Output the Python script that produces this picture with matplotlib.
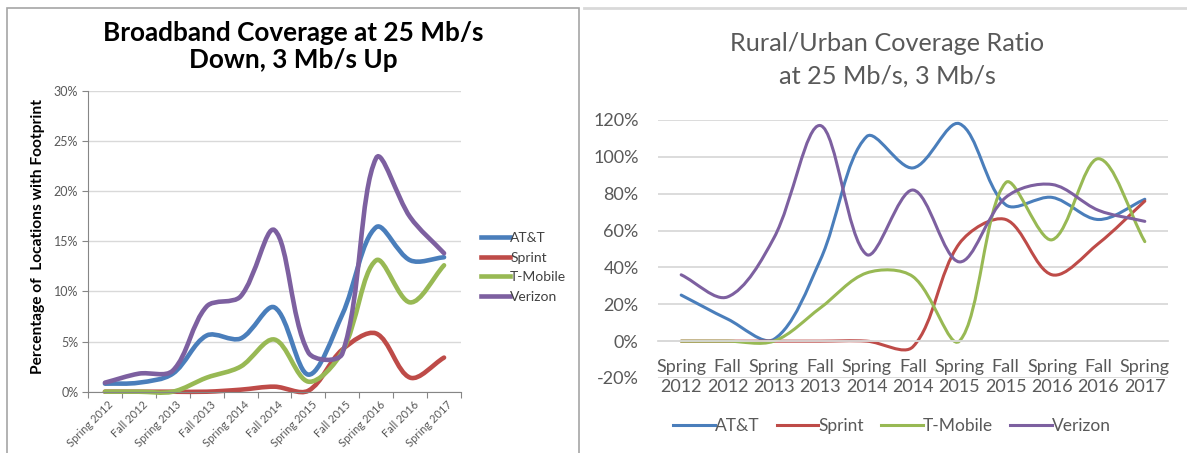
import numpy as np
import matplotlib.pyplot as plt
import matplotlib.transforms as mtransforms
from matplotlib.path import Path
from matplotlib.patches import PathPatch, Rectangle
from matplotlib.lines import Line2D
from matplotlib.ticker import FixedLocator, FuncFormatter

plt.rcParams['font.family'] = ['Lato', 'DejaVu Sans']

# data
periods = ['Spring 2012', 'Fall 2012', 'Spring 2013', 'Fall 2013', 'Spring 2014', 'Fall 2014',
           'Spring 2015', 'Fall 2015', 'Spring 2016', 'Fall 2016', 'Spring 2017']
carriers = ['AT&T', 'Sprint', 'T-Mobile', 'Verizon']
colors = ['#4A7EBB', '#BE4B48', '#98B954', '#7D60A0']

# coverage at 25/3, % of locations with footprint
cov_att = [0.8, 0.9, 1.8, 5.6, 5.3, 8.4, 1.7, 7.7, 16.4, 13.1, 13.4]
cov_sprint = [0.0, 0.0, 0.0, 0.0, 0.2, 0.5, 0.1, 4.2, 5.8, 1.4, 3.4]
cov_tmobile = [0.0, 0.0, 0.0, 1.4, 2.5, 5.2, 1.0, 4.0, 13.1, 8.9, 12.6]
cov_verizon = [0.9, 1.8, 2.1, 8.5, 9.5, 16.1, 3.9, 3.8, 23.3, 17.4, 13.8]

# rural / urban ratio, %
ratio_att = [25, 12, 1, 44, 111, 94, 118, 74, 78, 66, 77]
ratio_sprint = [0, 0, 0, 0, 0, -3, 53, 66, 36, 53, 76]
ratio_tmobile = [0, 0, 0, 18, 37, 35, 0, 86, 55, 99, 54]
ratio_verizon = [36, 24, 56, 117, 47, 82, 43, 78, 85, 71, 65]


def smooth_path(ax, xs, ys):
    # excel-like smoothed line, control points worked out in screen space
    pts = ax.transData.transform(np.column_stack([xs, ys]))
    n = len(pts)
    verts = [pts[0]]
    codes = [Path.MOVETO]
    for i in range(n - 1):
        p0 = pts[i - 1] if i > 0 else pts[i]
        p1 = pts[i]
        p2 = pts[i + 1]
        p3 = pts[i + 2] if i + 2 < n else pts[i + 1]
        d01 = np.hypot(*(p1 - p0))
        d12 = np.hypot(*(p2 - p1))
        d23 = np.hypot(*(p3 - p2))
        c1 = p1 + (p2 - p0) * (d12 / (d01 + d12)) / 3
        c2 = p2 - (p3 - p1) * (d12 / (d12 + d23)) / 3
        verts += [c1, c2, p2]
        codes += [Path.CURVE4] * 3
    verts = ax.transData.inverted().transform(np.array(verts))
    return Path(verts, codes)


W, H = 1187, 453
fig = plt.figure(figsize=(W / 100, H / 100), dpi=100)
gray_txt = '#595959'
grid_c = '#D9D9D9'
x = np.arange(len(periods))

# panel frames
fig.add_artist(Rectangle((7 / W, -0.05), 572 / W, (H - 8) / H + 0.05, transform=fig.transFigure,
                         fill=False, edgecolor='#A6A6A6', lw=1.2))
fig.add_artist(Line2D([584 / W, 1.0], [(H - 8) / H] * 2, transform=fig.transFigure,
                      color=grid_c, lw=2))

# ---- left chart
ax1 = fig.add_axes([88 / W, 61.3 / H, 373 / W, 301 / H])
ax1.set_xlim(-0.5, 10.5)
ax1.set_ylim(0, 30)
ax1.yaxis.set_major_locator(FixedLocator(np.arange(0, 31, 5)))
ax1.yaxis.set_major_formatter(FuncFormatter(lambda v, p: '%d%%' % v))
ax1.grid(axis='y', color=grid_c, lw=1)
ax1.set_axisbelow(True)
for s in ['top', 'right']:
    ax1.spines[s].set_visible(False)
for s in ['left', 'bottom']:
    ax1.spines[s].set_color('#868686')
ax1.xaxis.set_major_locator(FixedLocator(np.arange(-0.5, 11, 1)))
ax1.xaxis.set_major_formatter(FuncFormatter(lambda v, p: ''))
ax1.xaxis.set_minor_locator(FixedLocator(x))
ax1.set_xticklabels(periods, minor=True, rotation=45, ha='right', rotation_mode='anchor',
                    fontsize=8, color=gray_txt)
ax1.tick_params(axis='x', which='minor', length=0, pad=5)
ax1.tick_params(axis='x', which='major', length=4, color='#868686')
ax1.tick_params(axis='y', length=4, color='#868686', labelsize=9, labelcolor=gray_txt, pad=3)
shift = mtransforms.ScaledTranslation(3 / 100, 0, fig.dpi_scale_trans)
for lab in ax1.get_xticklabels(minor=True):
    lab.set_transform(lab.get_transform() + shift)

for vals, c in zip([cov_att, cov_sprint, cov_tmobile, cov_verizon], colors):
    ax1.add_patch(PathPatch(smooth_path(ax1, x, vals), fill=False, edgecolor=c, lw=3.3,
                            capstyle='round', joinstyle='round', clip_on=False))

h1 = [Line2D([], [], color=c, lw=3.3) for c in colors]
fig.legend(h1, carriers, loc='center left', bbox_to_anchor=(481 / W, (H - 267.5) / H),
           frameon=False, fontsize=10, handlelength=2.1, handletextpad=0.0,
           labelspacing=0.55, borderpad=0, borderaxespad=0, labelcolor='#404040')

fig.text(293 / W, (H - 40.7) / H, 'Broadband Coverage at 25 Mb/s', ha='center', va='baseline',
         fontsize=18.8, fontweight='bold')
fig.text(293 / W, (H - 68.3) / H, 'Down, 3 Mb/s Up', ha='center', va='baseline',
         fontsize=18.8, fontweight='bold')
fig.text(38 / W, (H - 236) / H, 'Percentage of  Locations with Footprint', rotation=90,
         ha='center', va='center', fontsize=11.2, fontweight='bold')

# ---- right chart
ax2 = fig.add_axes([658 / W, 75 / H, 510 / W, 258 / H])
ax2.set_xlim(-0.5, 10.5)
ax2.set_ylim(-20, 120)
ax2.yaxis.set_major_locator(FixedLocator(np.arange(-20, 121, 20)))
ax2.yaxis.set_major_formatter(FuncFormatter(lambda v, p: '%d%%' % v))
ax2.grid(axis='y', color=grid_c, lw=1.3)
ax2.set_axisbelow(True)
for s in ['top', 'right', 'left']:
    ax2.spines[s].set_visible(False)
ax2.spines['bottom'].set_position(('data', 0))
ax2.spines['bottom'].set_color(grid_c)
ax2.spines['bottom'].set_linewidth(1.3)
ax2.set_xticks(x)
ax2.set_xticklabels([p.replace(' ', '\n') for p in periods], fontsize=13, color=gray_txt,
                    linespacing=1.3)
ax2.tick_params(axis='x', length=0, pad=13)
ax2.tick_params(axis='y', length=0, labelsize=13, labelcolor=gray_txt, pad=14)

for vals, c in zip([ratio_att, ratio_sprint, ratio_tmobile, ratio_verizon], colors):
    ax2.add_patch(PathPatch(smooth_path(ax2, x, vals), fill=False, edgecolor=c, lw=2.2,
                            capstyle='round', joinstyle='round'))

h2 = [Line2D([], [], color=c, lw=2.2) for c in colors]
fig.legend(h2, carriers, loc='center left', bbox_to_anchor=(673 / W, (H - 426) / H), ncol=4,
           frameon=False, fontsize=12.5, handlelength=2.4, handletextpad=0.0, columnspacing=1.0,
           borderpad=0, borderaxespad=0, labelcolor=gray_txt)

fig.text(887 / W, (H - 50.7) / H, 'Rural/Urban Coverage Ratio', ha='center', va='baseline',
         fontsize=18.2, color=gray_txt)
fig.text(887 / W, (H - 83.3) / H, 'at 25 Mb/s, 3 Mb/s', ha='center', va='baseline',
         fontsize=18.2, color=gray_txt)

fig.savefig('out.png', dpi=100)
